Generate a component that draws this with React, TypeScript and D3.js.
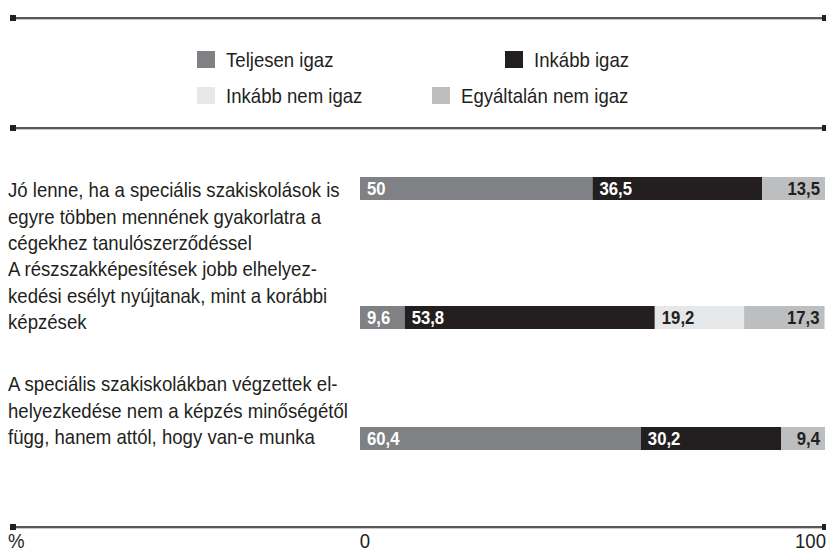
import { useEffect, useRef } from 'react';
import * as d3 from 'd3';

// data
const series = ['Teljesen igaz', 'Inkább igaz', 'Inkább nem igaz', 'Egyáltalán nem igaz'];
const colors = ['#808184', '#231f20', '#e6e7e8', '#bcbec0'];
const labelColors = ['#ffffff', '#ffffff', '#231f20', '#231f20'];

const categories = ['q1', 'q2', 'q3'];
const categoryLines = [
  ['Jó lenne, ha a speciális szakiskolások is', 'egyre többen mennének gyakorlatra a', 'cégekhez tanulószerződéssel'],
  ['A részszakképesítések jobb elhelyez-', 'kedési esélyt nyújtanak, mint a korábbi', 'képzések'],
  ['A speciális szakiskolákban végzettek el-', 'helyezkedése nem a képzés minőségétől', 'függ, hanem attól, hogy van-e munka'],
];
const values = [
  [50, 36.5, 0, 13.5],
  [9.6, 53.8, 19.2, 17.3],
  [60.4, 30.2, 0, 9.4],
];
const axisTicks = [0, 100];

const FONT = "'Liberation Sans', Arial, sans-serif";
const INK = '#231f20';

const App = () => {
  const svgRef = useRef<SVGSVGElement>(null);

  useEffect(() => {
    if (!svgRef.current) return;
    const svg = d3.select(svgRef.current);
    svg.selectAll('*').remove();

    const width = 826;
    const height = 553;
    svg.attr('width', width).attr('height', height).attr('font-family', FONT);

    // condensed look: squeeze glyphs horizontally
    const label = (x: number, y: number, txt: string, opts: { size?: number; bold?: boolean; anchor?: string; fill?: string; sx?: number } = {}) =>
      svg.append('text')
        .attr('transform', `translate(${x},${y}) scale(${opts.sx ?? 0.93},1)`)
        .attr('font-size', opts.size ?? 20)
        .attr('font-weight', opts.bold ? 'bold' : 'normal')
        .attr('text-anchor', opts.anchor ?? 'start')
        .attr('fill', opts.fill ?? INK)
        .text(txt);

    // horizontal rules with square end caps
    const rule = (y: number) => {
      svg.append('line').attr('x1', 10).attr('x2', 826).attr('y1', y + 1.5).attr('y2', y + 1.5)
        .attr('stroke', '#c8c8c8').attr('stroke-width', 1);
      svg.append('line').attr('x1', 10).attr('x2', 826).attr('y1', y).attr('y2', y)
        .attr('stroke', INK).attr('stroke-width', 1.6);
      svg.append('rect').attr('x', 10).attr('y', y - 3).attr('width', 6).attr('height', 6).attr('fill', INK);
      svg.append('rect').attr('x', 822).attr('y', y - 3).attr('width', 6).attr('height', 6).attr('fill', INK);
    };
    rule(18);
    rule(128);
    rule(527);

    // legend
    const legendPos = [
      { x: 197, y: 51 },
      { x: 505, y: 51 },
      { x: 197, y: 87 },
      { x: 432, y: 87 },
    ];
    series.forEach((s, i) => {
      const p = legendPos[i];
      svg.append('rect').attr('x', p.x).attr('y', p.y).attr('width', 18).attr('height', 17).attr('fill', colors[i]);
      label(p.x + 29, p.y + 16, s);
    });

    const x = d3.scaleLinear().domain([0, 100]).range([360, 825]);
    const y = d3.scalePoint<string>().domain(categories).range([188.5, 438.5]);
    const barH = 23;
    const barNudge = [0, 4, 0];
    const textOffsets = [8.5, -37.5, -47.5];

    categories.forEach((c, ci) => {
      const cy = y(c)!;
      // category text
      categoryLines[ci].forEach((line, li) => {
        label(8, cy + textOffsets[ci] + li * 26.6, line);
      });
      const by = cy + barNudge[ci];
      const stacked = d3.cumsum(values[ci]);
      values[ci].forEach((v, si) => {
        if (v <= 0) return;
        const x0 = x(stacked[si] - v);
        const x1 = x(stacked[si]);
        svg.append('rect').attr('x', x0).attr('y', by - barH / 2)
          .attr('width', x1 - x0).attr('height', barH).attr('fill', colors[si]);
        const last = si === values[ci].length - 1;
        label(last ? x1 - 5 : x0 + 7, by + 6.5, String(v).replace('.', ','), {
          size: 19, bold: true, sx: 0.88, anchor: last ? 'end' : 'start', fill: labelColors[si],
        });
      });
    });

    // axis labels
    label(8, 548, '%');
    axisTicks.forEach((t, i) => {
      label(i === 0 ? x(t) + 5 : 826, 548, String(t), { anchor: i === 0 ? 'middle' : 'end' });
    });
  }, []);

  return (
    <div style={{ position: 'absolute', left: 0, top: 0 }}>
      <svg ref={svgRef} style={{ display: 'block', background: '#fff' }}></svg>
    </div>
  );
};

export default App;
